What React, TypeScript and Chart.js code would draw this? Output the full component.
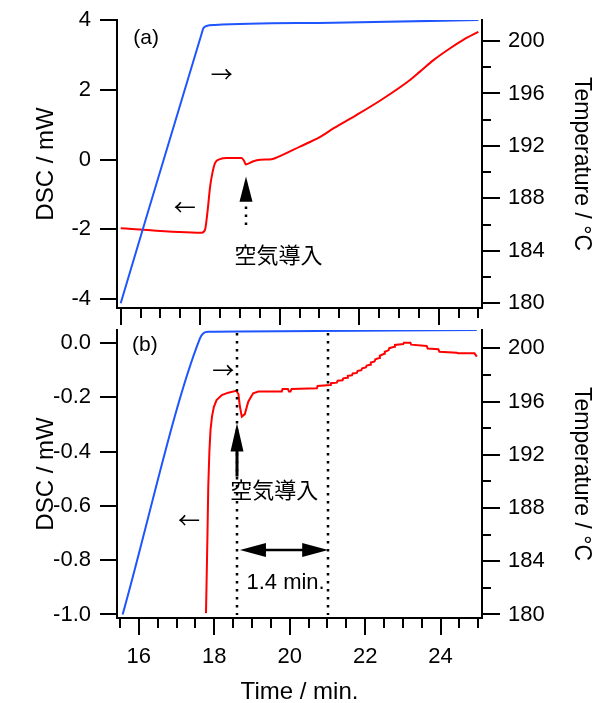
import React, { useEffect, useRef } from 'react';
import { Chart, registerables } from 'chart.js';

Chart.register(...registerables);

const W = 592;
const H = 703;
const SANS = '"Liberation Sans", Arial, Helvetica, sans-serif';
const CJK = '"Noto Sans CJK JP", "Noto Sans CJK SC", sans-serif';
const BLUE = '#1f55ff';
const RED = '#ff0000';

// ---------------- Panel (a) data ----------------
const timeDscA = [16.0, 18.04, 18.12, 18.18, 18.25, 18.29, 18.37, 18.5, 18.67, 19.04, 19.1, 19.15, 19.34, 19.51, 19.8, 19.93, 20.51, 21.02, 21.35, 21.94, 22.61, 23.28, 23.53, 23.87, 24.29, 24.62, 25.0];
const dscA = [-1.97, -2.1, -2.02, -1.54, -0.78, -0.49, -0.11, 0.01, 0.04, 0.04, -0.03, -0.14, -0.05, -0.01, 0.01, 0.06, 0.37, 0.65, 0.89, 1.28, 1.75, 2.28, 2.52, 2.85, 3.19, 3.43, 3.66];
const timeTempA = [16.0, 18.04, 18.08, 18.16, 18.37, 21.35, 25.0];
const tempA = [180.0, 200.59, 200.97, 201.14, 201.22, 201.4, 201.6];

// ---------------- Panel (b) data ----------------
const timeDscB = [17.78, 17.8, 17.82, 17.84, 17.87, 17.9, 17.94, 17.99, 18.06, 18.2, 18.37, 18.58, 18.64, 18.68, 18.73, 18.81, 18.9, 19.03, 19.17, 19.79, 19.81, 19.95, 19.98, 20.02, 20.05, 20.72, 20.74, 21.07, 21.09, 21.25, 21.27, 21.4, 21.42, 21.52, 21.54, 21.65, 21.67, 21.78, 21.8, 21.9, 21.92, 22.02, 22.04, 22.13, 22.15, 22.25, 22.27, 22.37, 22.39, 22.5, 22.52, 22.62, 22.64, 22.77, 22.79, 23.01, 23.03, 23.2, 23.22, 23.63, 23.66, 23.94, 23.97, 24.43, 24.46, 24.9, 24.96];
const dscB = [-0.995, -0.85, -0.7, -0.53, -0.4, -0.32, -0.27, -0.235, -0.21, -0.192, -0.183, -0.176, -0.188, -0.235, -0.271, -0.262, -0.216, -0.185, -0.179, -0.179, -0.169, -0.169, -0.179, -0.179, -0.169, -0.167, -0.158, -0.155, -0.148, -0.146, -0.139, -0.137, -0.13, -0.128, -0.121, -0.119, -0.112, -0.11, -0.103, -0.1, -0.093, -0.09, -0.083, -0.08, -0.072, -0.068, -0.06, -0.055, -0.047, -0.04, -0.032, -0.027, -0.019, -0.014, -0.007, -0.004, 0.001, 0.001, -0.006, -0.011, -0.02, -0.023, -0.032, -0.036, -0.038, -0.038, -0.05];
const timeTempB = [15.57, 17.62, 17.71, 17.84, 18.68, 24.96];
const tempB = [180.0, 200.75, 201.13, 201.25, 201.27, 201.37];

// ---------------- Tick values ----------------
const xMajorTicks = [16, 18, 20, 22, 24];
const xTicksA = [16, 16.5, 17, 17.5, 18, 18.5, 19, 19.5, 20, 20.5, 21, 21.5, 22, 22.5, 23, 23.5, 24, 24.5, 25];
const xTicksB = [15.5, 16, 16.5, 17, 17.5, 18, 18.5, 19, 19.5, 20, 20.5, 21, 21.5, 22, 22.5, 23, 23.5, 24, 24.5, 25];
const dscTicksA = [-4, -2, 0, 2, 4];
const dscTicksB = [-1.0, -0.8, -0.6, -0.4, -0.2, 0.0];
const tempMajorTicks = [180, 184, 188, 192, 196, 200];
const tempMinorTicks = [182, 186, 190, 194, 198];

// ---------------- Annotations (data coordinates) ----------------
type Note = { text: string; x: number; y: number; size: number; family: string };
const notesA: Note[] = [
  { text: '(a)', x: 16.64, y: 3.48, size: 21, family: SANS },
  { text: '→', x: 18.54, y: 2.45, size: 22, family: CJK },
  { text: '←', x: 17.61, y: -1.35, size: 22, family: CJK },
  { text: '空気導入', x: 19.97, y: -2.74, size: 22, family: CJK },
];
const notesB: Note[] = [
  { text: '(b)', x: 16.16, y: -0.007, size: 21, family: SANS },
  { text: '→', x: 18.24, y: -0.097, size: 22, family: CJK },
  { text: '←', x: 17.33, y: -0.649, size: 22, family: CJK },
  { text: '空気導入', x: 19.59, y: -0.541, size: 22, family: CJK },
  { text: '1.4 min.', x: 19.89, y: -0.882, size: 22, family: SANS },
];
type UpArrow = { x: number; tip: number; base: number; shaftEnd: number | null };
type Dotted = { x: number; y1: number | null; y2: number | null };
type DoubleArrow = { y: number; x1: number; x2: number };
const upArrowsA: UpArrow[] = [{ x: 19.15, tip: -0.49, base: -1.21, shaftEnd: null }];
const dottedA: Dotted[] = [{ x: 19.15, y1: -1.348, y2: -1.907 }];
const upArrowsB: UpArrow[] = [{ x: 18.59, tip: -0.296, base: -0.4, shaftEnd: -0.492 }];
const dottedB: Dotted[] = [
  { x: 18.59, y1: null, y2: null },
  { x: 21.01, y1: null, y2: null },
];
const doubleArrowsB: DoubleArrow[] = [{ y: -0.762, x1: 18.68, x2: 21.02 }];

interface Panel {
  padTop: number;
  xAxisH: number;
  xMin: number; xMax: number;
  dMin: number; dMax: number;
  tMin: number; tMax: number;
  xTicks: number[];
  xLabels: boolean;
  dTicks: number[];
  dDecimals: number;
  dscX: number[]; dscY: number[];
  tempX: number[]; tempY: number[];
  redSmooth: boolean;
  notes: Note[];
  upArrows: UpArrow[];
  dotted: Dotted[];
  doubles: DoubleArrow[];
}

const panelA: Panel = {
  padTop: 20, xAxisH: H - 308,
  xMin: 15.907, xMax: 25.091,
  dMin: -4.258, dMax: 4.0,
  tMin: 179.641, tMax: 201.601,
  xTicks: xTicksA, xLabels: false,
  dTicks: dscTicksA, dDecimals: 0,
  dscX: timeDscA, dscY: dscA, tempX: timeTempA, tempY: tempA,
  redSmooth: true,
  notes: notesA, upArrows: upArrowsA, dotted: dottedA, doubles: [],
};

const panelB: Panel = {
  padTop: 330, xAxisH: H - 618,
  xMin: 15.4205, xMax: 25.098,
  dMin: -1.0129, dMax: 0.0479,
  tMin: 179.737, tMax: 201.375,
  xTicks: xTicksB, xLabels: true,
  dTicks: dscTicksB, dDecimals: 1,
  dscX: timeDscB, dscY: dscB, tempX: timeTempB, tempY: tempB,
  redSmooth: false,
  notes: notesB, upArrows: upArrowsB, dotted: dottedB, doubles: doubleArrowsB,
};

const zip = (xs: number[], ys: number[]) => xs.map((x, i) => ({ x, y: ys[i] }));

function tickPlugin(p: Panel) {
  return {
    id: 'customTicks',
    afterDraw(chart: any) {
      const ctx = chart.ctx;
      const a = chart.chartArea;
      const sx = chart.scales.x;
      const sl = chart.scales.yL;
      const sr = chart.scales.yR;
      ctx.save();
      ctx.strokeStyle = '#000';
      ctx.lineWidth = 2;
      ctx.lineCap = 'butt';
      const seg = (x1: number, y1: number, x2: number, y2: number) => {
        ctx.beginPath();
        ctx.moveTo(x1, y1);
        ctx.lineTo(x2, y2);
        ctx.stroke();
      };
      p.xTicks.forEach((v) => {
        const px = Math.round(sx.getPixelForValue(v));
        const len = xMajorTicks.includes(v) ? 17 : 10;
        seg(px, a.bottom, px, a.bottom + len);
      });
      p.dTicks.forEach((v) => {
        const py = Math.round(sl.getPixelForValue(v));
        seg(a.left - 17, py, a.left, py);
      });
      tempMajorTicks.forEach((v) => {
        const py = Math.round(sr.getPixelForValue(v));
        seg(a.right, py, a.right + 18, py);
      });
      tempMinorTicks.forEach((v) => {
        const py = Math.round(sr.getPixelForValue(v));
        seg(a.right, py, a.right + 9, py);
      });
      ctx.restore();
    },
  };
}

function notePlugin(p: Panel) {
  return {
    id: 'notes',
    afterDraw(chart: any) {
      const ctx = chart.ctx;
      const a = chart.chartArea;
      const sx = chart.scales.x;
      const sl = chart.scales.yL;
      ctx.save();
      ctx.fillStyle = '#000';
      ctx.strokeStyle = '#000';

      // dotted vertical lines
      ctx.lineWidth = 2.5;
      ctx.setLineDash([2.5, 5.5]);
      p.dotted.forEach((d) => {
        const px = Math.round(sx.getPixelForValue(d.x));
        const y1 = d.y1 === null ? a.top + 3 : sl.getPixelForValue(d.y1);
        const y2 = d.y2 === null ? a.bottom - 3 : sl.getPixelForValue(d.y2);
        ctx.beginPath();
        ctx.moveTo(px, y1);
        ctx.lineTo(px, y2);
        ctx.stroke();
      });
      ctx.setLineDash([]);

      // upward arrows
      p.upArrows.forEach((u) => {
        const px = Math.round(sx.getPixelForValue(u.x));
        const yt = sl.getPixelForValue(u.tip);
        const yb = sl.getPixelForValue(u.base);
        ctx.beginPath();
        ctx.moveTo(px, yt);
        ctx.lineTo(px + 6.5, yb);
        ctx.lineTo(px - 6.5, yb);
        ctx.closePath();
        ctx.fill();
        if (u.shaftEnd !== null) {
          ctx.lineWidth = 3;
          ctx.beginPath();
          ctx.moveTo(px, yb - 1);
          ctx.lineTo(px, sl.getPixelForValue(u.shaftEnd));
          ctx.stroke();
        }
      });

      // double-headed horizontal arrows
      p.doubles.forEach((d) => {
        const py = Math.round(sl.getPixelForValue(d.y));
        const x1 = sx.getPixelForValue(d.x1);
        const x2 = sx.getPixelForValue(d.x2);
        const hl = 26;
        const hw = 7;
        ctx.beginPath();
        ctx.moveTo(x1, py);
        ctx.lineTo(x1 + hl, py - hw);
        ctx.lineTo(x1 + hl, py + hw);
        ctx.closePath();
        ctx.fill();
        ctx.beginPath();
        ctx.moveTo(x2, py);
        ctx.lineTo(x2 - hl, py - hw);
        ctx.lineTo(x2 - hl, py + hw);
        ctx.closePath();
        ctx.fill();
        ctx.lineWidth = 2.5;
        ctx.beginPath();
        ctx.moveTo(x1 + hl - 1, py);
        ctx.lineTo(x2 - hl + 1, py);
        ctx.stroke();
      });

      // text notes
      ctx.textAlign = 'center';
      ctx.textBaseline = 'middle';
      p.notes.forEach((n) => {
        ctx.font = `${n.size}px ${n.family}`;
        ctx.fillText(n.text, sx.getPixelForValue(n.x), sl.getPixelForValue(n.y));
      });
      ctx.restore();
    },
  };
}

function makeConfig(p: Panel): any {
  const border = { display: true, width: 2, color: '#000' };
  // invisible tick marks: they only reserve the gap between axis line and labels
  const grid = {
    display: true,
    drawOnChartArea: false,
    drawTicks: true,
    tickLength: 26,
    tickColor: 'rgba(0,0,0,0)',
    color: 'rgba(0,0,0,0)',
  };
  return {
    type: 'line',
    data: {
      datasets: [
        {
          data: zip(p.tempX, p.tempY),
          yAxisID: 'yR',
          xAxisID: 'x',
          borderColor: BLUE,
          borderWidth: 2,
          pointRadius: 0,
          fill: false,
          cubicInterpolationMode: 'monotone',
        },
        {
          data: zip(p.dscX, p.dscY),
          yAxisID: 'yL',
          xAxisID: 'x',
          borderColor: RED,
          borderWidth: 2,
          pointRadius: 0,
          fill: false,
          tension: 0,
          cubicInterpolationMode: p.redSmooth ? 'monotone' : 'default',
        },
      ],
    },
    options: {
      responsive: false,
      maintainAspectRatio: false,
      animation: false,
      devicePixelRatio: 1,
      events: [],
      layout: { padding: { top: p.padTop, left: 0, right: 0, bottom: 0 } },
      plugins: { legend: { display: false }, tooltip: { enabled: false } },
      scales: {
        x: {
          type: 'linear',
          position: 'bottom',
          min: p.xMin,
          max: p.xMax,
          grid,
          border,
          ticks: {
            display: p.xLabels,
            autoSkip: false,
            maxRotation: 0,
            padding: 0,
            color: '#000',
            font: { family: SANS, size: 22 },
            callback: (v: number) => String(v),
          },
          afterBuildTicks: (s: any) => {
            s.ticks = xMajorTicks.map((v) => ({ value: v }));
          },
          title: {
            display: p.xLabels,
            text: 'Time / min.',
            color: '#000',
            font: { family: SANS, size: 24 },
            padding: { top: 0, bottom: -4 },
          },
          afterFit: (s: any) => {
            s.height = p.xAxisH;
          },
        },
        yL: {
          type: 'linear',
          position: 'left',
          min: p.dMin,
          max: p.dMax,
          grid,
          border,
          ticks: {
            autoSkip: false,
            padding: 0,
            color: '#000',
            font: { family: SANS, size: 22 },
            callback: (v: number) => Number(v).toFixed(p.dDecimals),
          },
          afterBuildTicks: (s: any) => {
            s.ticks = p.dTicks.map((v) => ({ value: v }));
          },
          title: {
            display: true,
            text: 'DSC / mW',
            color: '#000',
            font: { family: SANS, size: 24 },
            padding: { top: 32, bottom: 0 },
          },
          afterFit: (s: any) => {
            s.width = 117;
          },
        },
        yR: {
          type: 'linear',
          position: 'right',
          min: p.tMin,
          max: p.tMax,
          grid,
          border,
          ticks: {
            autoSkip: false,
            padding: 0,
            color: '#000',
            font: { family: SANS, size: 22 },
            callback: (v: number) => String(Math.round(v)),
          },
          afterBuildTicks: (s: any) => {
            s.ticks = tempMajorTicks.map((v) => ({ value: v }));
          },
          title: {
            display: true,
            text: 'Temperature / °C',
            color: '#000',
            font: { family: SANS, size: 23 },
            padding: { top: -3, bottom: 0 },
          },
          afterFit: (s: any) => {
            s.width = W - 482;
          },
        },
      },
    },
    plugins: [tickPlugin(p), notePlugin(p)],
  };
}

export default function App() {
  const refA = useRef<HTMLCanvasElement>(null);
  const refB = useRef<HTMLCanvasElement>(null);
  useEffect(() => {
    const a = new Chart(refA.current as HTMLCanvasElement, makeConfig(panelA));
    const b = new Chart(refB.current as HTMLCanvasElement, makeConfig(panelB));
    return () => {
      a.destroy();
      b.destroy();
    };
  }, []);
  const cs: React.CSSProperties = { position: 'absolute', left: 0, top: 0, width: W, height: H };
  return (
    <div style={{ position: 'absolute', left: 0, top: 0, width: W, height: H, background: '#fff' }}>
      <canvas ref={refA} width={W} height={H} style={cs} />
      <canvas ref={refB} width={W} height={H} style={cs} />
    </div>
  );
}
